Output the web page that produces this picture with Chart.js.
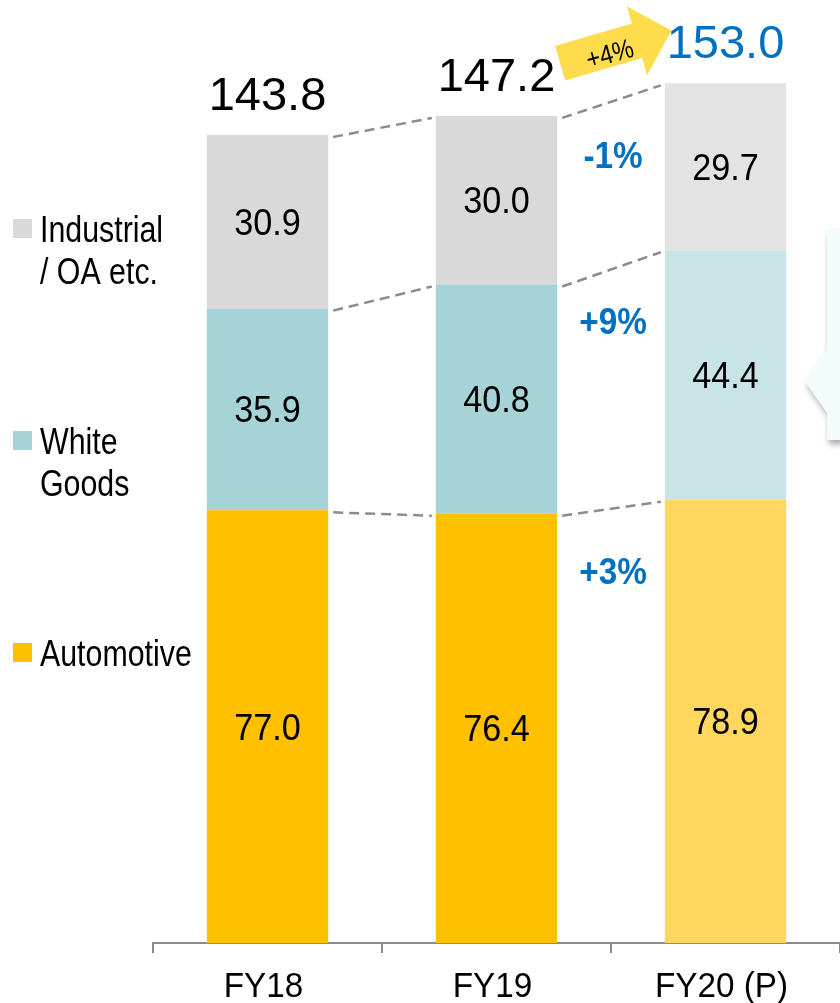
<!DOCTYPE html>
<html>
<head>
<meta charset="utf-8">
<script src="https://cdn.jsdelivr.net/npm/chart.js@4/dist/chart.umd.min.js"></script>
<style>
  body { margin: 0; background: #fff; }
  #wrap { width: 840px; height: 1003px; }
</style>
</head>
<body>
<div id="wrap"><canvas id="salesChart" width="840" height="1003"></canvas></div>
<script>
// données
const categories = ['FY18', 'FY19', 'FY20 (P)'];
const automotive = [77.0, 76.4, 78.9];
const whiteGoods = [35.9, 40.8, 44.4];
const industrial = [30.9, 30.0, 29.7];
const totals = [143.8, 147.2, 153.0];
const segmentGrowth = ['+3%', '+9%', '-1%']; // automotive, white goods, industrial
const totalGrowth = '+4%';
const legendLabels = [['Automotive'], ['White', 'Goods'], ['Industrial', '/ OA etc.']];

const FONT = '"Liberation Sans", Arial, sans-serif';
const BLUE = '#0070C0';

function drawText(ctx, text, x, y, size, opts) {
    opts = opts || {};
    ctx.save();
    ctx.font = (opts.bold ? 'bold ' : '') + size + 'px ' + FONT;
    ctx.fillStyle = opts.color || '#000';
    ctx.textAlign = opts.align || 'center';
    ctx.textBaseline = opts.baseline || 'middle';
    ctx.translate(x, y);
    if (opts.rotate) ctx.rotate(opts.rotate);
    ctx.scale(opts.sx || 1, 1);
    ctx.fillText(text, 0, 0);
    ctx.restore();
}

const annotations = {
    id: 'annotations',
    afterDatasetsDraw(chart) {
        const ctx = chart.ctx;
        const metas = [0, 1, 2].map(d => chart.getDatasetMeta(d).data);
        const legendColors = chart.data.datasets.map(ds => ds.backgroundColor[0]);

        // lignes pointillées entre les barres
        ctx.save();
        ctx.strokeStyle = '#8c8c8c';
        ctx.lineWidth = 2.5;
        ctx.setLineDash([10, 6]);
        for (let i = 0; i < categories.length - 1; i++) {
            for (let d = 0; d < 3; d++) {
                const a = metas[d][i], b = metas[d][i + 1];
                ctx.beginPath();
                ctx.moveTo(a.x + a.width / 2 + 5, a.y + 2);
                ctx.lineTo(b.x - b.width / 2 - 4, b.y + 2);
                ctx.stroke();
            }
        }
        ctx.restore();

        // valeurs dans les segments
        const series = [automotive, whiteGoods, industrial];
        for (let d = 0; d < 3; d++) {
            metas[d].forEach((bar, i) => {
                drawText(ctx, series[d][i].toFixed(1), bar.x, (bar.y + bar.base) / 2 + 3, 36, { sx: 0.95 });
            });
        }

        // totaux
        metas[2].forEach((bar, i) => {
            const last = i === categories.length - 1;
            drawText(ctx, totals[i].toFixed(1), bar.x, bar.y - 38, 47, { color: last ? BLUE : '#000' });
        });

        // variations par segment
        const last = categories.length - 1;
        for (let d = 0; d < 3; d++) {
            const prev = metas[d][last - 1], cur = metas[d][last];
            const x = (prev.x + prev.width / 2 + cur.x - cur.width / 2) / 2 + 2;
            drawText(ctx, segmentGrowth[d], x, cur.y + 74, 37, { bold: true, color: BLUE, sx: 0.9 });
        }

        // flèche +4%
        const p = metas[2][last - 1], c = metas[2][last];
        const ax = p.x + p.width / 2 + 3, ay = c.y - 20;
        const ang = -16.4 * Math.PI / 180;
        ctx.save();
        ctx.translate(ax, ay);
        ctx.rotate(ang);
        ctx.fillStyle = '#FFDC4B';
        ctx.beginPath();
        ctx.moveTo(0, -18);
        ctx.lineTo(80, -18);
        ctx.lineTo(80, -36);
        ctx.lineTo(116, 0);
        ctx.lineTo(80, 36);
        ctx.lineTo(80, 18);
        ctx.lineTo(0, 18);
        ctx.closePath();
        ctx.fill();
        ctx.restore();
        drawText(ctx, totalGrowth, ax + 50, ay - 8, 27, { rotate: -0.27, sx: 0.88 });

        // bulle à droite
        ctx.save();
        ctx.shadowColor = 'rgba(0,0,0,0.35)';
        ctx.shadowBlur = 6;
        ctx.shadowOffsetX = 2;
        ctx.shadowOffsetY = 4;
        ctx.fillStyle = '#F3FCFD';
        ctx.beginPath();
        ctx.moveTo(827, 230);
        ctx.lineTo(850, 230);
        ctx.lineTo(850, 440);
        ctx.lineTo(827, 440);
        ctx.lineTo(827, 413);
        ctx.lineTo(805, 382);
        ctx.lineTo(827, 350);
        ctx.closePath();
        ctx.fill();
        ctx.restore();

        // légende à gauche
        const legendY = [653, 441, 229];
        for (let d = 0; d < 3; d++) {
            const y = legendY[d];
            ctx.fillStyle = legendColors[d];
            ctx.fillRect(13, y - 10, 19, 19);
            legendLabels[d].forEach((line, k) => {
                drawText(ctx, line, 40, y + 13 + k * 42, 37, { align: 'left', baseline: 'alphabetic', sx: 0.82 });
            });
        }

        // étiquettes de l'axe x
        const xs = chart.scales.x;
        categories.forEach((cat, i) => {
            drawText(ctx, cat, xs.getPixelForValue(i) - 4, 997, 35, { baseline: 'alphabetic', sx: 0.95 });
        });
    }
};

const ctxSales = document.querySelector('#salesChart');
const salesChart = new Chart(ctxSales, {
    type: 'bar',
    data: {
        labels: categories,
        datasets: [
            { label: 'Automotive', data: automotive, backgroundColor: ['#FFC000', '#FFC000', '#FFD75E'] },
            { label: 'White Goods', data: whiteGoods, backgroundColor: ['#A5D3D7', '#A5D3D7', '#C9E4E7'] },
            { label: 'Industrial / OA etc.', data: industrial, backgroundColor: ['#D9D9D9', '#D9D9D9', '#E3E3E3'] },
        ],
    },
    options: {
        responsive: false,
        animation: false,
        events: [],
        barPercentage: 0.53,
        categoryPercentage: 1,
        layout: { padding: { left: 153, top: 44, right: 0, bottom: 0 } },
        scales: {
            x: {
                stacked: true,
                grid: { offset: true, drawOnChartArea: false, tickLength: 10, color: '#8a8a8a', lineWidth: 2 },
                border: { color: '#8a8a8a', width: 2 },
                ticks: { display: false },
                afterFit(scale) { scale.height = 60; },
            },
            y: { stacked: true, display: false, min: 0, max: 160 },
        },
        plugins: {
            legend: { display: false },
            tooltip: { enabled: false },
        },
    },
    plugins: [annotations],
});
</script>
</body>
</html>
